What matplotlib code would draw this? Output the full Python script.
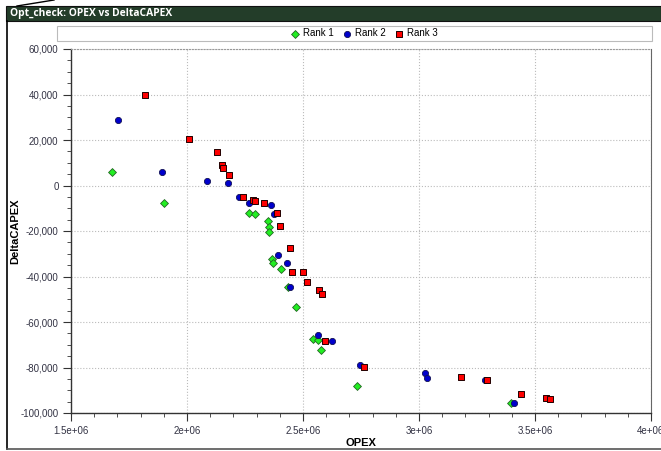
import matplotlib
matplotlib.use("Agg")
import matplotlib.pyplot as plt
from matplotlib.patches import Rectangle
from matplotlib.lines import Line2D
from matplotlib.ticker import FixedLocator, FixedFormatter, MultipleLocator

plt.rcParams['font.family'] = ['Liberation Sans', 'DejaVu Sans']

# ---- data ----
rank1_opex = [1.677e6, 1.901e6, 2.267e6, 2.294e6, 2.348e6, 2.352e6, 2.352e6, 2.365e6,
              2.372e6, 2.405e6, 2.434e6, 2.471e6, 2.542e6, 2.566e6, 2.579e6, 2.731e6, 3.398e6]
rank1_dcapex = [5800, -7900, -12200, -12700, -15700, -18300, -20400, -32400,
                -34200, -36500, -44800, -53600, -67400, -68100, -72200, -88200, -95800]

rank2_opex = [1.704e6, 1.893e6, 2.087e6, 2.175e6, 2.224e6, 2.267e6, 2.362e6, 2.374e6,
              2.392e6, 2.431e6, 2.445e6, 2.566e6, 2.623e6, 2.744e6, 3.024e6, 3.034e6,
              3.284e6, 3.409e6]
rank2_dcapex = [28700, 5800, 1800, 1000, -5100, -7600, -8400, -12400,
                -30500, -34100, -44800, -65800, -68400, -78800, -82200, -84400,
                -85700, -95500]

rank3_opex = [1.819e6, 2.009e6, 2.128e6, 2.152e6, 2.155e6, 2.182e6, 2.243e6, 2.284e6,
              2.294e6, 2.330e6, 2.389e6, 2.400e6, 2.445e6, 2.451e6, 2.501e6, 2.518e6,
              2.569e6, 2.583e6, 2.596e6, 2.761e6, 3.182e6, 3.293e6, 3.441e6, 3.549e6, 3.566e6]
rank3_dcapex = [40000, 20600, 14900, 9100, 7600, 4500, -5100, -6200,
                -6900, -7600, -12000, -18000, -27300, -37900, -37900, -42500,
                -46000, -47600, -68300, -79700, -84300, -85700, -91600, -93300, -93800]

series_names = ["Rank 1", "Rank 2", "Rank 3"]
x_ticks = [1.5e6, 2.0e6, 2.5e6, 3.0e6, 3.5e6, 4.0e6]
x_ticklabels = ["1.5e+06", "2e+06", "2.5e+06", "3e+06", "3.5e+06", "4e+06"]
y_ticks = [60000, 40000, 20000, 0, -20000, -40000, -60000, -80000, -100000]
y_ticklabels = ["60,000", "40,000", "20,000", "0", "-20,000", "-40,000", "-60,000", "-80,000", "-100,000"]
title = "Opt_check: OPEX vs DeltaCAPEX"
x_label = "OPEX"
y_label = "DeltaCAPEX"

# ---- figure ----
W, H = 661, 451
fig = plt.figure(figsize=(W / 100, H / 100), dpi=100)

def fx(px):
    return px / W

def fy(py):
    return 1 - py / H

# title bar
fig.patches.append(Rectangle((fx(6), fy(21)), fx(661) - fx(6), fy(6) - fy(21),
                             transform=fig.transFigure, facecolor='#233d29',
                             edgecolor='#111111', linewidth=0.8, zorder=1))
fig.text(fx(10), fy(13.5), title, color='white', fontsize=7.4, fontweight='bold',
         family=['Open Sans', 'DejaVu Sans'], va='center', ha='left')
# tab diagonal line
fig.add_artist(Line2D([fx(17), fx(54)], [fy(6), fy(0)], color='black', lw=1.0,
                      transform=fig.transFigure))
# left and bottom borders
fig.add_artist(Line2D([fx(7), fx(7)], [fy(21), fy(449)], color='black', lw=1.2,
                      transform=fig.transFigure))
fig.add_artist(Line2D([fx(7), fx(661)], [fy(449), fy(449)], color='#555555', lw=1.2,
                      transform=fig.transFigure))

# legend box
fig.patches.append(Rectangle((fx(57), fy(41)), fx(652) - fx(57), fy(26) - fy(41),
                             transform=fig.transFigure, facecolor='white',
                             edgecolor='#bbbbbb', linewidth=0.8, zorder=1))

ax = fig.add_axes([fx(71), fy(413), fx(651) - fx(71), fy(49) - fy(413)])

s1 = ax.scatter(rank1_opex, rank1_dcapex, marker='D', s=16, c='#22ee22',
                edgecolors='#226622', linewidths=0.6, zorder=3, label=series_names[0])
s2 = ax.scatter(rank2_opex, rank2_dcapex, marker='o', s=20, c='#0000cc',
                edgecolors='#111155', linewidths=0.6, zorder=4, label=series_names[1])
s3 = ax.scatter(rank3_opex, rank3_dcapex, marker='s', s=20, c='#ff0000',
                edgecolors='#220000', linewidths=0.7, zorder=5, label=series_names[2])

ax.set_xlim(1.5e6, 4.0e6)
ax.set_ylim(-100000, 60000)
ax.xaxis.set_major_locator(FixedLocator(x_ticks))
ax.xaxis.set_major_formatter(FixedFormatter(x_ticklabels))
ax.xaxis.set_minor_locator(MultipleLocator(1e5))
ax.yaxis.set_major_locator(FixedLocator(y_ticks))
ax.yaxis.set_major_formatter(FixedFormatter(y_ticklabels))
ax.yaxis.set_minor_locator(MultipleLocator(5000))

ax.tick_params(which='major', direction='out', length=6, width=0.8, color='#333333',
               labelsize=7, labelcolor='#333344', pad=3)
ax.tick_params(which='minor', direction='out', length=3, width=0.6, color='#333333')
ax.grid(True, which='major', linestyle=':', color='#bbbbbb', linewidth=0.8)

for side in ['left', 'bottom']:
    ax.spines[side].set_color('#333333')
    ax.spines[side].set_linewidth(1.0)
ax.spines['top'].set_color('#999999')
ax.spines['top'].set_linestyle(':')
ax.spines['right'].set_color('#666666')

ax.set_xlabel(x_label, fontsize=8, fontweight='bold', labelpad=2)
ax.set_ylabel(y_label, fontsize=8, fontweight='bold', labelpad=0)

fig.legend(handles=[s1, s2, s3], loc='center', bbox_to_anchor=(fx(364), fy(33.5)),
           ncol=3, frameon=False, fontsize=7, handletextpad=0.3, columnspacing=0.9,
           handlelength=1.0, borderaxespad=0, markerscale=1.0)

fig.savefig("out.png", dpi=100)
